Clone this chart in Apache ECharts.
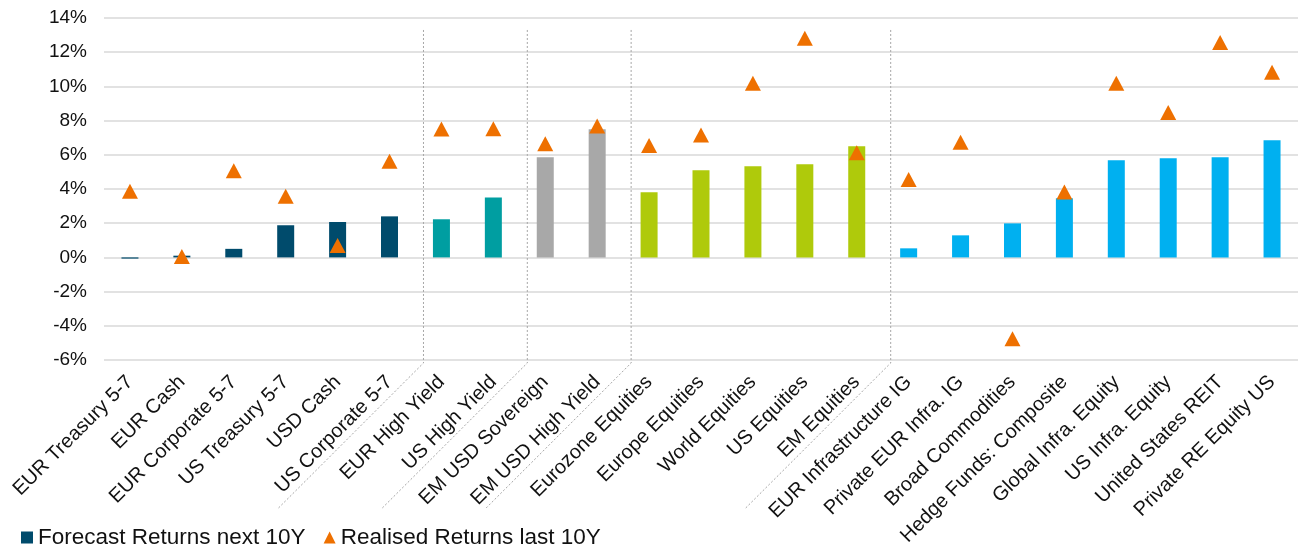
<!DOCTYPE html>
<html>
<head>
<meta charset="utf-8">
<script src="https://cdn.jsdelivr.net/npm/echarts@6/dist/echarts.min.js"></script>
<style>
html,body{margin:0;padding:0;background:#fff;}
#chart{width:1298px;height:549px;}
</style>
</head>
<body>
<div id="chart"></div>
<script>
const categories = [
  'EUR Treasury 5-7','EUR Cash','EUR Corporate 5-7','US Treasury 5-7','USD Cash','US Corporate 5-7',
  'EUR High Yield','US High Yield','EM USD Sovereign','EM USD High Yield',
  'Eurozone Equities','Europe Equities','World Equities','US Equities','EM Equities',
  'EUR Infrastructure IG','Private EUR Infra. IG','Broad Commodities','Hedge Funds: Composite',
  'Global Infra. Equity','US Infra. Equity','United States REIT','Private RE Equity US'
];
const assetGroup = [
  'IG','IG','IG','IG','IG','IG',
  'HY','HY','EM','EM',
  'EQ','EQ','EQ','EQ','EQ',
  'ALT','ALT','ALT','ALT','ALT','ALT','ALT','ALT'
];
const forecast = [-0.07, 0.1, 0.5, 1.88, 2.07, 2.4, 2.23, 3.51, 5.86, 7.5, 3.81, 5.1, 5.33, 5.45, 6.5, 0.53, 1.29, 1.99, 3.46, 5.68, 5.8, 5.86, 6.85];
const realised = [3.87, 0.05, 5.07, 3.57, 0.7, 5.63, 7.51, 7.53, 6.65, 7.69, 6.55, 7.16, 10.19, 12.82, 6.12, 4.55, 6.74, -4.76, 3.83, 10.19, 8.47, 12.56, 10.83];
const seriesNames = ['Forecast Returns next 10Y', 'Realised Returns last 10Y'];

const groupColor = {IG:'#004B6C', HY:'#009EA1', EM:'#A8A8A8', EQ:'#AFCA0B', ALT:'#00B0F0'};
const FONT = 'Arial, "Liberation Sans", sans-serif';

const chart = echarts.init(document.getElementById('chart'), null, {renderer:'canvas'});
chart.setOption({
  animation: false,
  backgroundColor: '#fff',
  grid: {left: 104, right: 0, top: 18, bottom: 189, containLabel: false},
  legend: {
    left: 16, top: 521, itemGap: 18, itemWidth: 12, itemHeight: 12,
    textStyle: {fontFamily: FONT, fontSize: 22.5, color: '#111'},
    data: [{name: seriesNames[0], icon: 'rect'}, {name: seriesNames[1], icon: 'triangle'}]
  },
  xAxis: {
    type: 'category', data: categories,
    axisLine: {show: false}, axisTick: {show: false},
    axisLabel: {interval: 0, rotate: 45, margin: 19, fontFamily: FONT, fontSize: 20, color: '#111'}
  },
  yAxis: {
    type: 'value', min: -6, max: 14, interval: 2,
    axisLine: {show: false}, axisTick: {show: false},
    axisLabel: {formatter: '{value}%', fontFamily: FONT, fontSize: 19, color: '#111', margin: 17},
    splitLine: {lineStyle: {color: '#D9D9D9', width: 1.5}}
  },
  series: [
    {
      name: seriesNames[0], type: 'bar', barWidth: 17, color: groupColor.IG,
      data: forecast.map((v, i) => ({value: v, itemStyle: {color: groupColor[assetGroup[i]]}}))
    },
    {
      name: seriesNames[1], type: 'scatter', symbol: 'triangle', symbolSize: [16, 15],
      itemStyle: {color: '#EE7000', opacity: 1}, z: 5, data: realised
    }
  ]
});

// group separators (dotted), derived from asset group changes
const SEP_SHIFT = 8;
const elems = [];
for (let i = 1; i < categories.length; i++) {
  if (assetGroup[i] !== assetGroup[i - 1]) {
    const a = chart.convertToPixel({gridIndex: 0}, [i - 1, 0]);
    const b = chart.convertToPixel({gridIndex: 0}, [i, 0]);
    const x = (a[0] + b[0]) / 2 + SEP_SHIFT;
    const yTop = chart.convertToPixel({gridIndex: 0}, [i, 13.3])[1];
    const yBot = chart.convertToPixel({gridIndex: 0}, [i, -6])[1];
    elems.push({
      type: 'polyline', silent: true,
      shape: {points: [[x, yTop], [x, yBot + 3], [x - 146, yBot + 149]]},
      style: {stroke: '#A6A6A6', lineWidth: 1, lineDash: [2, 2], fill: null}
    });
  }
}
chart.setOption({graphic: elems});
</script>
</body>
</html>
